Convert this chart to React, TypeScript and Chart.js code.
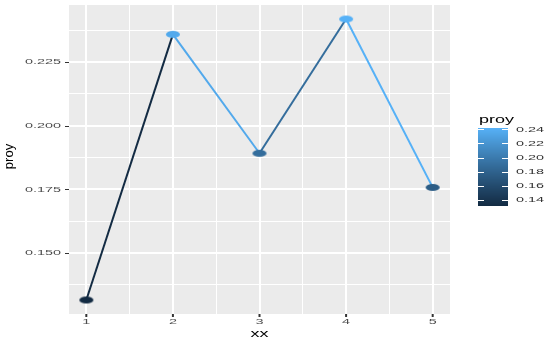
import React, { useEffect, useRef } from "react";
import { Chart, registerables } from "chart.js";

Chart.register(...registerables);

// ---- data ----
const xx = [1, 2, 3, 4, 5];
const proy = [0.1316, 0.2359, 0.1892, 0.2419, 0.1758];

// ---- ticks ----
const xTicks = [1, 2, 3, 4, 5];
const xTickLabels = ["1", "2", "3", "4", "5"];
const xMinor = [1.5, 2.5, 3.5, 4.5];
const yTicks = [0.15, 0.175, 0.2, 0.225];
const yTickLabels = ["0.150", "0.175", "0.200", "0.225"];
const yMinor = [0.1375, 0.1625, 0.1875, 0.2125, 0.2375];
const legendTicks = [0.14, 0.16, 0.18, 0.2, 0.22, 0.24];
const legendTickLabels = ["0.14", "0.16", "0.18", "0.20", "0.22", "0.24"];

const LOW = "#132B43";
const HIGH = "#56B1F7";

// ---- Lab colour interpolation (like scales::seq_gradient) ----
function hexToRgb(h: string) {
  return [1, 3, 5].map((i) => parseInt(h.slice(i, i + 2), 16));
}
function toLin(c: number) {
  c /= 255;
  return c <= 0.04045 ? c / 12.92 : Math.pow((c + 0.055) / 1.055, 2.4);
}
function fromLin(c: number) {
  const v = c <= 0.0031308 ? 12.92 * c : 1.055 * Math.pow(c, 1 / 2.4) - 0.055;
  return Math.max(0, Math.min(255, Math.round(v * 255)));
}
const Xn = 0.95047, Yn = 1, Zn = 1.08883;
function f(t: number) {
  return t > 0.008856 ? Math.cbrt(t) : 7.787 * t + 16 / 116;
}
function finv(t: number) {
  return t > 0.206893 ? t * t * t : (t - 16 / 116) / 7.787;
}
function rgbToLab(rgb: number[]) {
  const [r, g, b] = rgb.map(toLin);
  const X = 0.4124 * r + 0.3576 * g + 0.1805 * b;
  const Y = 0.2126 * r + 0.7152 * g + 0.0722 * b;
  const Z = 0.0193 * r + 0.1192 * g + 0.9505 * b;
  const fx = f(X / Xn), fy = f(Y / Yn), fz = f(Z / Zn);
  return [116 * fy - 16, 500 * (fx - fy), 200 * (fy - fz)];
}
function labToRgb(lab: number[]) {
  const fy = (lab[0] + 16) / 116;
  const fx = fy + lab[1] / 500;
  const fz = fy - lab[2] / 200;
  const X = finv(fx) * Xn, Y = finv(fy) * Yn, Z = finv(fz) * Zn;
  const r = 3.2406 * X - 1.5372 * Y - 0.4986 * Z;
  const g = -0.9689 * X + 1.8758 * Y + 0.0415 * Z;
  const b = 0.0557 * X - 0.204 * Y + 1.057 * Z;
  return [fromLin(r), fromLin(g), fromLin(b)];
}
const labLow = rgbToLab(hexToRgb(LOW));
const labHigh = rgbToLab(hexToRgb(HIGH));
const vMin = Math.min(...proy);
const vMax = Math.max(...proy);
function colorFor(v: number) {
  const t = Math.max(0, Math.min(1, (v - vMin) / (vMax - vMin)));
  const lab = labLow.map((c, i) => c + (labHigh[i] - c) * t);
  const [r, g, b] = labToRgb(lab);
  return `rgb(${r},${g},${b})`;
}

function ellipseCanvas(color: string) {
  const c = document.createElement("canvas");
  c.width = 16;
  c.height = 9;
  const g = c.getContext("2d")!;
  g.fillStyle = color;
  g.beginPath();
  g.ellipse(8, 4.5, 7, 3.6, 0, 0, Math.PI * 2);
  g.fill();
  return c;
}

function sText(
  ctx: CanvasRenderingContext2D,
  text: string,
  x: number,
  y: number,
  font: string,
  color: string,
  align: CanvasTextAlign,
  baseline: CanvasTextBaseline,
  sx: number,
  sy = 1,
  rot = 0
) {
  ctx.save();
  ctx.translate(x, y);
  ctx.scale(sx, sy);
  if (rot) ctx.rotate(rot);
  ctx.font = font;
  ctx.fillStyle = color;
  ctx.textAlign = align;
  ctx.textBaseline = baseline;
  ctx.fillText(text, 0, 0);
  ctx.restore();
}

const FONT = "'Liberation Sans', Arial, sans-serif";

export default function App() {
  const ref = useRef<HTMLCanvasElement>(null);

  useEffect(() => {
    if (!ref.current) return;
    const yPad = (vMax - vMin) * 0.05;
    const xPad = (Math.max(...xx) - Math.min(...xx)) * 0.05;
    const isMajorX = (v: number) => xTicks.some((t) => Math.abs(t - v) < 1e-9);
    const isMajorY = (v: number) => yTicks.some((t) => Math.abs(t - v) < 1e-9);
    const pointStyles = proy.map((v) => ellipseCanvas(colorFor(v)));

    const bgPlugin = {
      id: "panelBg",
      beforeDraw(chart: any) {
        const { ctx, chartArea: a } = chart;
        ctx.save();
        ctx.fillStyle = "#EBEBEB";
        ctx.fillRect(a.left, a.top, a.right - a.left, a.bottom - a.top);
        ctx.restore();
      },
    };

    const decoPlugin = {
      id: "deco",
      afterDraw(chart: any) {
        const { ctx, chartArea: a } = chart;
        const xs = chart.scales.x;
        const ys = chart.scales.y;
        ctx.save();
        // tick marks
        ctx.strokeStyle = "#333333";
        ctx.lineWidth = 1;
        yTicks.forEach((v) => {
          const y = Math.round(ys.getPixelForValue(v)) + 0.5;
          ctx.beginPath();
          ctx.moveTo(a.left - 4, y);
          ctx.lineTo(a.left, y);
          ctx.stroke();
        });
        ctx.lineWidth = 2;
        xTicks.forEach((v) => {
          const x = xs.getPixelForValue(v);
          ctx.beginPath();
          ctx.moveTo(x, a.bottom);
          ctx.lineTo(x, a.bottom + 3);
          ctx.stroke();
        });
        ctx.restore();

        // tick labels
        yTicks.forEach((v, i) => {
          sText(ctx, yTickLabels[i], a.left - 8, ys.getPixelForValue(v), `8px ${FONT}`, "#4D4D4D", "right", "middle", 1.8);
        });
        xTicks.forEach((v, i) => {
          sText(ctx, xTickLabels[i], xs.getPixelForValue(v), a.bottom + 8, `8px ${FONT}`, "#4D4D4D", "center", "middle", 1.8);
        });
        // axis titles
        sText(ctx, "xx", (a.left + a.right) / 2, a.bottom + 22.5, `10px ${FONT}`, "#000", "center", "alphabetic", 1.8);
        sText(ctx, "proy", 13.3, (a.top + a.bottom) / 2 - 3, `13px ${FONT}`, "#000", "center", "alphabetic", 1, 1, -Math.PI / 2);

        // legend
        const bx = 478, bw = 30, bTop = 128, bBot = 206;
        sText(ctx, "proy", 479, 122.5, `10px ${FONT}`, "#000", "left", "alphabetic", 1.8);
        const n = bBot - bTop;
        for (let i = 0; i < n; i++) {
          const t = (i + 0.5) / n;
          ctx.fillStyle = colorFor(vMin + (vMax - vMin) * (1 - t));
          ctx.fillRect(bx, bTop + i, bw, 1);
        }
        const barY = (v: number) => bBot - ((v - vMin) / (vMax - vMin)) * (bBot - bTop);
        ctx.save();
        ctx.strokeStyle = "#FFFFFF";
        ctx.lineWidth = 1;
        legendTicks.forEach((v, i) => {
          const y = Math.round(barY(v)) + 0.5;
          ctx.beginPath();
          ctx.moveTo(bx, y);
          ctx.lineTo(bx + 6, y);
          ctx.moveTo(bx + bw - 6, y);
          ctx.lineTo(bx + bw, y);
          ctx.stroke();
          sText(ctx, legendTickLabels[i], bx + bw + 8, barY(v), `8px ${FONT}`, "#333333", "left", "middle", 1.8);
        });
        ctx.restore();
      },
    };

    const chart = new Chart(ref.current, {
      type: "line",
      data: {
        datasets: [
          {
            data: xx.map((x, i) => ({ x, y: proy[i] })),
            borderWidth: 2,
            borderColor: colorFor(vMax),
            segment: {
              borderColor: (c: any) => colorFor(c.p0.parsed.y),
            },
            pointStyle: (c: any) => pointStyles[c.dataIndex] as any,
            pointRadius: 7,
            pointHoverRadius: 7,
            fill: false,
            tension: 0,
            clip: false,
          } as any,
        ],
      },
      options: {
        animation: false,
        responsive: false,
        events: [],
        layout: { autoPadding: false, padding: { left: 69, right: 100, top: 5, bottom: 25 } },
        plugins: { legend: { display: false }, tooltip: { enabled: false } },
        scales: {
          x: {
            type: "linear",
            min: Math.min(...xx) - xPad,
            max: Math.max(...xx) + xPad,
            afterBuildTicks: (s: any) => {
              s.ticks = [...xTicks, ...xMinor].sort((p, q) => p - q).map((value) => ({ value }));
            },
            afterFit: (s: any) => {
              s.height = 0;
            },
            ticks: { display: false },
            border: { display: false },
            grid: {
              color: "#FFFFFF",
              drawTicks: false,
              lineWidth: (c: any) => (c.tick && isMajorX(c.tick.value) ? 2 : 1),
            },
          },
          y: {
            type: "linear",
            min: vMin - yPad,
            max: vMax + yPad,
            afterBuildTicks: (s: any) => {
              s.ticks = [...yTicks, ...yMinor].sort((p, q) => p - q).map((value) => ({ value }));
            },
            afterFit: (s: any) => {
              s.width = 0;
            },
            ticks: { display: false },
            border: { display: false },
            grid: {
              color: "#FFFFFF",
              drawTicks: false,
              lineWidth: (c: any) => (c.tick && isMajorY(c.tick.value) ? 2 : 1),
            },
          },
        },
      },
      plugins: [bgPlugin, decoPlugin],
    });
    return () => chart.destroy();
  }, []);

  return (
    <div style={{ position: "fixed", left: 0, top: 0, width: 550, height: 339, background: "#fff" }}>
      <canvas ref={ref} width={550} height={339} style={{ display: "block" }} />
    </div>
  );
}
